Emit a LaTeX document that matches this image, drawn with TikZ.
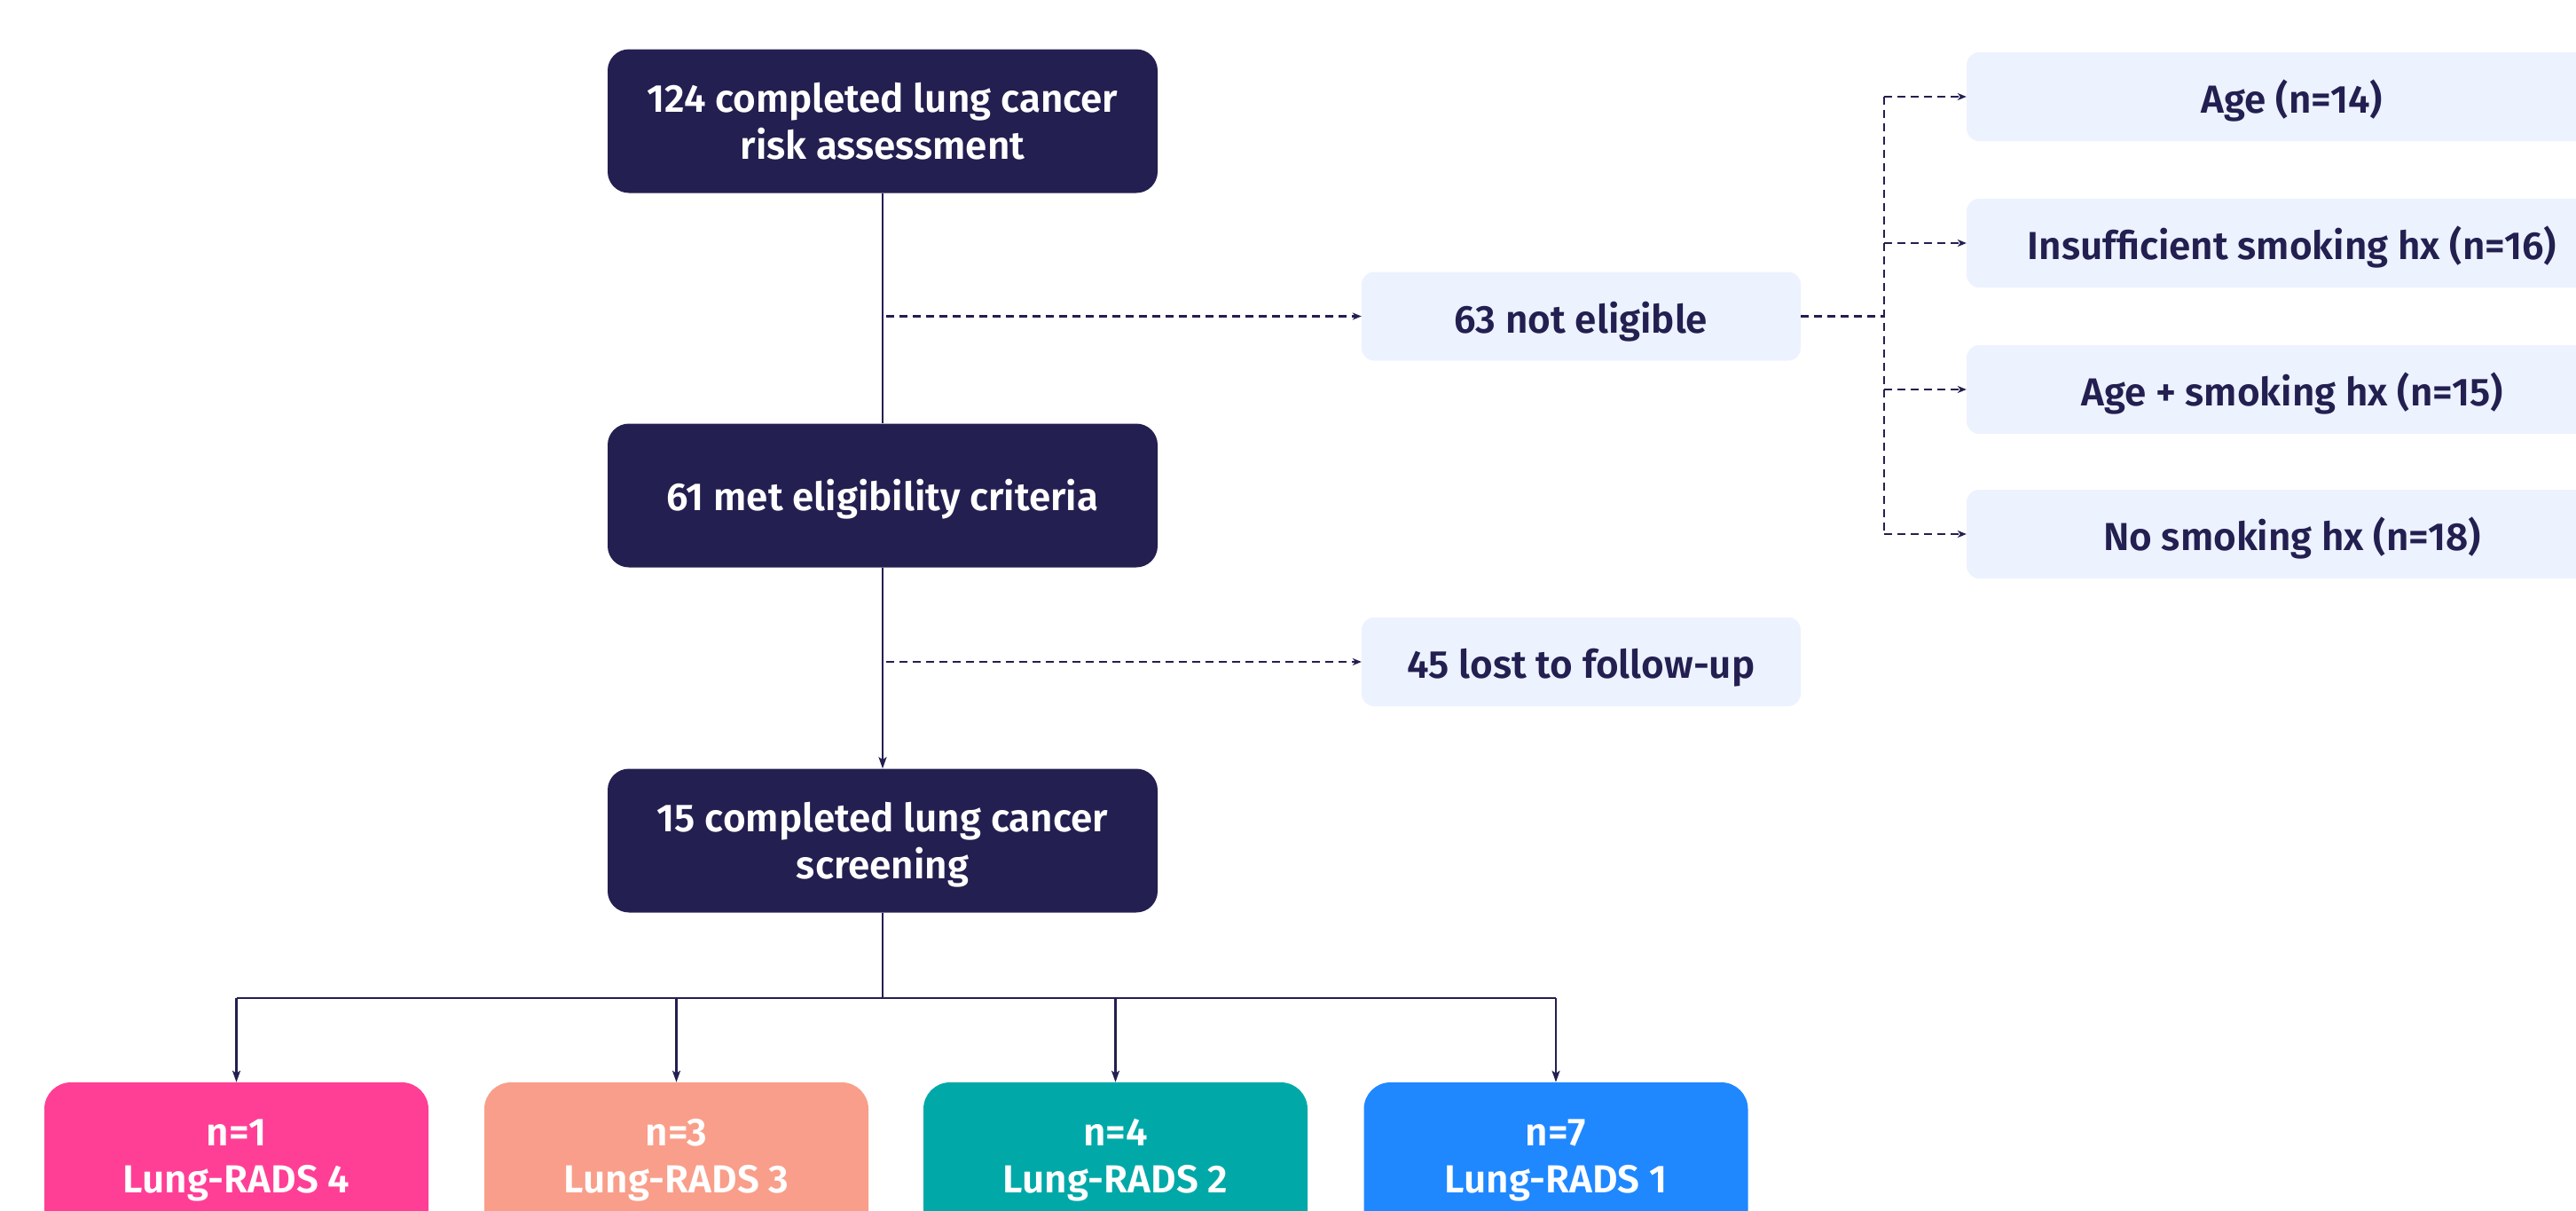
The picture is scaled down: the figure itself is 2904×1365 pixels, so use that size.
\documentclass[tikz,border=0pt]{standalone}
\usepackage{fontspec}
\IfFontExistsTF{Fira Sans SemiBold}{\newfontfamily\mainf{Fira Sans SemiBold}}{\newfontfamily\mainff{Fira Sans}\newcommand\mainf{\mainff\bfseries}}
\usetikzlibrary{arrows.meta}
\definecolor{navy}{HTML}{231F50}
\definecolor{lightb}{HTML}{ECF2FE}
\definecolor{rpink}{HTML}{FF3F96}
\definecolor{rsalmon}{HTML}{F99E8A}
\definecolor{rteal}{HTML}{00A9A8}
\definecolor{rblue}{HTML}{1F88FF}
\begin{document}
\begin{tikzpicture}[x=1pt,y=-1pt,
  every node/.style={font=\mainf\fontsize{44}{53}\selectfont, inner sep=0pt},
  dark/.style={fill=navy, text=white, rounded corners=24pt, minimum width=620pt, minimum height=162pt, align=center, text depth=0pt},
  light/.style={fill=lightb, text=navy, rounded corners=14pt, minimum height=100pt, text height=37pt, text depth=0pt},
  res/.style={fill=#1, text=white, rounded corners=30pt, minimum width=433pt, minimum height=175pt, align=center},
  solidln/.style={draw=navy, line width=2.2pt},
  dashln/.style={draw=navy, line width=2.4pt, dash pattern=on 9pt off 6pt},
  arr/.style={-{Stealth[length=13pt,width=9pt,inset=3pt]}},
  darr/.style={-{Stealth[length=10pt,width=8pt,inset=3pt]}}
]
\useasboundingbox (0,0) rectangle (2904,1365);
% main column
\node[dark] (b1) at (995,136.5) {124 completed lung cancer\\risk assessment};
\node[dark, text height=33pt] (b2) at (995,558.5) {61 met eligibility criteria};
\node[dark] (b3) at (995,947.5) {15 completed lung cancer\\screening};
% exclusions
\node[light, minimum width=495pt] (ne) at (1782.5,356.5) {63 not eligible};
\node[light, minimum width=495pt] (lost) at (1782.5,746) {45 lost to follow-up};
% reasons
\node[light, minimum width=734pt] (a1) at (2584,109) {Age (n=14)};
\node[light, minimum width=734pt] (a2) at (2584,274) {Insufficient smoking hx (n=16)};
\node[light, minimum width=734pt] (a3) at (2584,439) {Age + smoking hx (n=15)};
\node[light, minimum width=734pt] (a4) at (2584,602) {No smoking hx (n=18)};
% results
\node[res=rpink] (r1) at (266.5,1307.5) {n=1\\Lung-RADS 4};
\node[res=rsalmon] (r2) at (762.5,1307.5) {n=3\\Lung-RADS 3};
\node[res=rteal] (r3) at (1257.5,1307.5) {n=4\\Lung-RADS 2};
\node[res=rblue] (r4) at (1754,1307.5) {n=7\\Lung-RADS 1};
% main connectors
\draw[solidln] (b1.south) -- (b2.north);
\draw[solidln, arr] (b2.south) -- (b3.north);
% dashed side arrows
\draw[dashln, darr] ([xshift=4pt]b1.south |- ne.west) -- (ne.west);
\draw[dashln, darr] ([xshift=4pt]b2.south |- lost.west) -- (lost.west);
% branch to reasons
\coordinate (bx) at (2124,356.5);
\draw[dashln] (ne.east) -- (bx);
\draw[dashln] (bx |- a1.west) -- (bx |- a4.west);
\foreach \n in {a1,a2,a3,a4}{
  \draw[dashln, darr] (bx |- \n.west) -- (\n.west);
}
% bottom tree
\coordinate (hb) at (995,1125);
\draw[solidln] (b3.south) -- (hb);
\draw[solidln] (r1.north |- hb) -- (r4.north |- hb);
\foreach \n in {r1,r2,r3,r4}{
  \draw[solidln, arr] (\n.north |- hb) -- (\n.north);
}
\end{tikzpicture}
\end{document}
